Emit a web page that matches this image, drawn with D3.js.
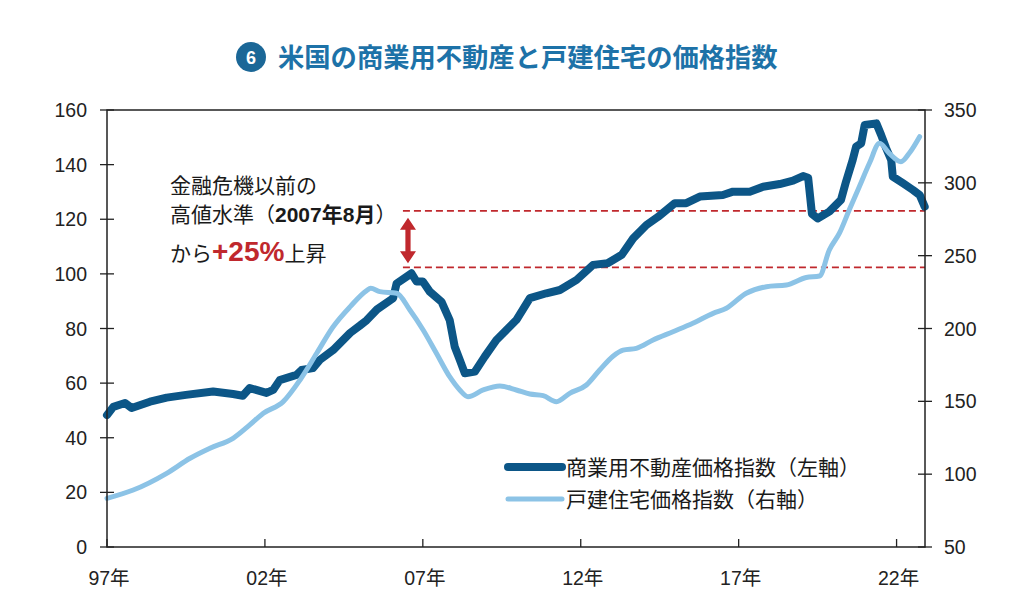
<!DOCTYPE html>
<html><head><meta charset="utf-8">
<script src="https://cdn.jsdelivr.net/npm/d3@7"></script>
<style>
html,body{margin:0;padding:0;background:#fff;}
svg{display:block;}
text{font-family:"Liberation Sans","Noto Sans CJK JP",Arial,sans-serif;}
.jp{font-family:"Noto Sans CJK JP","Liberation Sans",sans-serif;}
</style></head>
<body><svg id="c" width="1024" height="614"></svg>
<script>
// ---- data ----
const titleNum = "6";
const titleText = "米国の商業用不動産と戸建住宅の価格指数";
const xTickYears = [1997, 2002, 2007, 2012, 2017, 2022];
const xTickLabels = ["97年", "02年", "07年", "12年", "17年", "22年"];
const leftTicks = [0, 20, 40, 60, 80, 100, 120, 140, 160];
const rightTicks = [50, 100, 150, 200, 250, 300, 350];
const seriesNames = ["商業用不動産価格指数（左軸）", "戸建住宅価格指数（右軸）"];

const commercialDates = [1997.0,1997.2,1997.57,1997.78,1998.36,1998.89,1999.5,2000.36,2000.99,2001.3,2001.52,2002.05,2002.26,2002.47,2003.0,2003.16,2003.52,2003.74,2004.16,2004.7,2005.0,2005.22,2005.55,2006.06,2006.17,2006.64,2006.8,2007.0,2007.22,2007.59,2007.85,2008.01,2008.17,2008.33,2008.65,2008.96,2009.33,2009.96,2010.39,2010.91,2011.34,2011.87,2012.39,2012.85,2013.3,2013.66,2014.08,2014.45,2014.98,2015.34,2015.77,2016.5,2016.82,2017.35,2017.77,2018.3,2018.72,2019.04,2019.2,2019.32,2019.5,2019.87,2020.24,2020.4,2020.61,2020.72,2020.88,2020.99,2021.36,2021.51,2021.67,2021.83,2021.88,2022.2,2022.52,2022.73,2022.89];
const commercialValues = [48.3,51.3,52.7,50.9,53.2,54.7,55.7,56.9,56.0,55.4,58.2,56.4,57.5,61.1,63.0,64.8,65.5,68.5,72.1,78.4,81.0,83.0,87.0,91.1,96.5,100.2,97.2,97.2,93.5,89.8,83.1,73.3,68.5,63.6,64.2,69.7,75.8,83.1,91.1,92.9,94.1,97.8,103.3,103.9,107.0,113.0,117.9,120.9,125.9,125.9,128.3,128.9,130.1,130.1,131.9,132.9,134.1,135.8,135.2,122.0,120.3,122.8,127.1,133.8,141.7,146.6,147.8,154.5,155.1,150.9,146.0,141.7,135.6,133.2,130.7,128.9,124.6];

const homeDates = [1997.0,1997.83,1998.89,1999.63,2000.26,2000.99,2001.52,2001.95,2002.58,2003.11,2003.64,2004.16,2004.7,2005.22,2005.35,2005.64,2006.17,2006.59,2007.01,2007.43,2007.85,2008.17,2008.43,2008.91,2009.44,2009.96,2010.39,2010.81,2011.23,2011.65,2012.18,2012.6,2013.02,2013.34,2013.76,2014.29,2014.92,2015.55,2016.19,2016.61,2017.24,2017.88,2018.51,2019.14,2019.56,2019.87,2020.19,2020.5,2020.82,2021.14,2021.46,2021.77,2022.14,2022.4,2022.73];
const homeValues = [83.4,89.1,100.6,110.9,117.8,124.6,133.8,141.8,149.8,164.6,183.0,201.2,215.0,226.0,227.6,225.3,224.2,212.7,199.0,183.0,166.9,157.8,153.2,157.8,160.5,157.8,155.0,153.9,149.8,155.5,161.2,171.5,181.0,185.2,186.4,192.1,197.8,203.6,210.4,213.9,224.2,228.7,229.9,235.0,236.0,253.9,265.4,281.3,297.3,313.4,327.1,320.3,314.5,320.3,331.7];

const refLevels = [102.4, 123.1];   // 2007年8月高値水準 と +25%
const refStartYear = 2006.37;
const arrowYear = 2006.53;
const annoLines = ["金融危機以前の", "高値水準（", "2007年8月", "）", "から", "+25%", "上昇"];

// ---- layout ----
const svg = d3.select("#c");
const L = 107, R = 925, T = 110, B = 547;
const x = d3.scaleLinear().domain([1997, 2022.9]).range([L, R]);
const yL = d3.scaleLinear().domain([0, 160]).range([B, T]);
const yR = d3.scaleLinear().domain([50, 350]).range([B, T]);
const dark = "#0c5687", light = "#8cc3e6", red = "#c0282d", axisC = "#222";

// title
svg.append("circle").attr("cx", 251).attr("cy", 57).attr("r", 15).attr("fill", "#1b6797");
svg.append("text").attr("x", 251).attr("y", 63.5).attr("text-anchor", "middle")
  .attr("fill", "#fff").attr("font-size", 18).attr("font-weight", "bold").text(titleNum);
svg.append("text").attr("class", "jp").attr("x", 278).attr("y", 67)
  .attr("fill", "#1d72a8").attr("font-size", 26.3).attr("font-weight", "bold").text(titleText);

// reference dashed lines
svg.selectAll(".ref").data(refLevels).enter().append("line")
  .attr("x1", x(refStartYear)).attr("x2", R)
  .attr("y1", d => yL(d)).attr("y2", d => yL(d))
  .attr("stroke", red).attr("stroke-width", 1.8).attr("stroke-dasharray", "7,4");

// arrow
(function(){
  const ax = x(arrowYear), y1 = yL(refLevels[1]) + 7, y2 = yL(refLevels[0]) - 4;
  const hw = 8, hh = 12, sw = 2.6;
  const p = [[ax, y1],[ax+hw, y1+hh],[ax+sw, y1+hh],[ax+sw, y2-hh],[ax+hw, y2-hh],[ax, y2],
             [ax-hw, y2-hh],[ax-sw, y2-hh],[ax-sw, y1+hh],[ax-hw, y1+hh]];
  svg.append("path").attr("d", "M" + p.map(q => q.join(",")).join("L") + "Z").attr("fill", red);
})();

// lines
const lineL = d3.line().x(d => x(d[0])).y(d => yL(d[1]));
const lineR = d3.line().x(d => x(d[0])).y(d => yR(d[1])).curve(d3.curveMonotoneX);
svg.append("path").datum(d3.zip(commercialDates, commercialValues)).attr("d", lineL)
  .attr("fill", "none").attr("stroke", dark).attr("stroke-width", 8).attr("stroke-linejoin", "round").attr("stroke-linecap", "round");
svg.append("path").datum(d3.zip(homeDates, homeValues)).attr("d", lineR)
  .attr("fill", "none").attr("stroke", light).attr("stroke-width", 5).attr("stroke-linejoin", "round").attr("stroke-linecap", "round");

// frame
svg.append("rect").attr("x", L).attr("y", T).attr("width", R - L).attr("height", B - T)
  .attr("fill", "none").attr("stroke", axisC).attr("stroke-width", 1.5);

// left axis
const gl = svg.append("g");
leftTicks.forEach(v => {
  gl.append("line").attr("x1", L - 7).attr("x2", L + 7).attr("y1", yL(v)).attr("y2", yL(v)).attr("stroke", axisC).attr("stroke-width", 1.3);
  gl.append("text").attr("x", 87).attr("y", yL(v) + 7).attr("text-anchor", "end")
    .attr("font-size", 19.5).attr("fill", axisC).text(v);
});
// right axis
rightTicks.forEach(v => {
  gl.append("line").attr("x1", R - 7).attr("x2", R + 7).attr("y1", yR(v)).attr("y2", yR(v)).attr("stroke", axisC).attr("stroke-width", 1.3);
  gl.append("text").attr("x", 944).attr("y", yR(v) + 7).attr("text-anchor", "start")
    .attr("font-size", 19.5).attr("fill", axisC).text(v);
});
// x axis
xTickYears.forEach((yr, i) => {
  gl.append("line").attr("x1", x(yr)).attr("x2", x(yr)).attr("y1", B).attr("y2", B - 8).attr("stroke", axisC).attr("stroke-width", 1.3);
  gl.append("text").attr("x", x(yr) + 2).attr("y", 585).attr("text-anchor", "middle")
    .attr("font-size", 19.5).attr("fill", axisC).text(xTickLabels[i]);
});

// annotation
const an = svg.append("g").attr("class", "jp").attr("fill", "#1a1a1a");
an.append("text").attr("x", 170).attr("y", 193).attr("font-size", 21).text(annoLines[0]);
const t2 = an.append("text").attr("x", 170).attr("y", 222).attr("font-size", 21);
t2.append("tspan").text(annoLines[1]);
t2.append("tspan").attr("font-weight", "bold").attr("font-family", "Liberation Sans, sans-serif").text("2007");
t2.append("tspan").attr("font-weight", "bold").text("年");
t2.append("tspan").attr("font-weight", "bold").attr("font-family", "Liberation Sans, sans-serif").text("8");
t2.append("tspan").attr("font-weight", "bold").text("月");
t2.append("tspan").text(annoLines[3]);
const t3 = an.append("text").attr("x", 170).attr("y", 261).attr("font-size", 21);
t3.append("tspan").text(annoLines[4]);
t3.append("tspan").attr("fill", red).attr("font-weight", "bold").attr("font-size", 28)
  .attr("font-family", "Liberation Sans, sans-serif").text(annoLines[5]);
t3.append("tspan").text(annoLines[6]);

// legend
const lg = svg.append("g");
[[dark, 8, 467], [light, 5, 499]].forEach((s, i) => {
  lg.append("line").attr("x1", 508).attr("x2", 562).attr("y1", s[2]).attr("y2", s[2])
    .attr("stroke", s[0]).attr("stroke-width", s[1]).attr("stroke-linecap", "round");
  lg.append("text").attr("class", "jp").attr("x", 566).attr("y", s[2] + 8)
    .attr("font-size", 21).attr("fill", "#1a1a1a").text(seriesNames[i]);
});
</script></body></html>
